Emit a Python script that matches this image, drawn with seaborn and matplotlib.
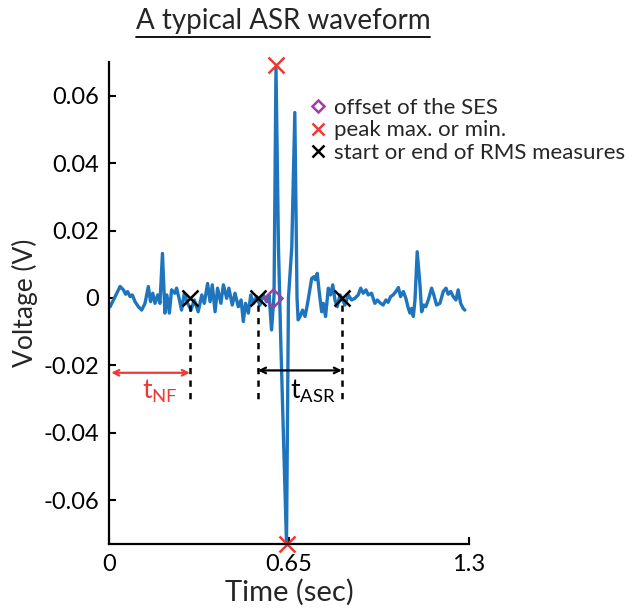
import numpy as np
import pandas as pd
import matplotlib
matplotlib.use("Agg")
import matplotlib.pyplot as plt
import seaborn as sns
from matplotlib.lines import Line2D

# waveform (time in s, voltage in V)
time = [0.004, 0.022, 0.040, 0.052, 0.060, 0.067, 0.076, 0.084, 0.094, 0.106,
        0.118, 0.130, 0.142, 0.150, 0.158, 0.166, 0.176, 0.184, 0.193, 0.202,
        0.209, 0.218, 0.226, 0.238, 0.244, 0.253, 0.262, 0.272, 0.284, 0.296,
        0.308, 0.322, 0.335, 0.344, 0.356, 0.365, 0.373, 0.383, 0.392, 0.404,
        0.413, 0.425, 0.433, 0.445, 0.455, 0.467, 0.477, 0.485, 0.493, 0.503,
        0.512, 0.521, 0.533, 0.545, 0.557, 0.569, 0.578, 0.587, 0.596, 0.603,
        0.612, 0.620, 0.641, 0.648, 0.660, 0.671, 0.679, 0.683, 0.690, 0.699,
        0.708, 0.716, 0.726, 0.732, 0.740, 0.745, 0.752, 0.759, 0.768, 0.774,
        0.782, 0.792, 0.800, 0.808, 0.816, 0.824, 0.834, 0.844, 0.852, 0.864,
        0.876, 0.888, 0.900, 0.909, 0.918, 0.928, 0.936, 0.948, 0.960, 0.969,
        0.981, 0.990, 1.000, 1.008, 1.017, 1.026, 1.036, 1.045, 1.053, 1.063,
        1.072, 1.081, 1.087, 1.093, 1.099, 1.105, 1.113, 1.123, 1.129, 1.137,
        1.144, 1.153, 1.165, 1.173, 1.183, 1.195, 1.207, 1.217, 1.225, 1.234,
        1.243, 1.253, 1.261, 1.270, 1.279, 1.285]
volt = [-0.0026, 0.0004, 0.0034, 0.0024, 0.0011, 0.0019, 0.0004, 0.0009, -0.0011, -0.0026,
        -0.0036, -0.0016, 0.0034, -0.0011, 0.0014, -0.0016, 0.0009, -0.0016, 0.0132, -0.0045,
        0.0009, -0.0045, 0.0024, 0.0014, 0.0029, -0.0001, -0.0036, 0.0014, -0.0016, -0.0036,
        -0.0006, -0.0041, 0.0009, -0.0016, 0.0043, -0.0011, 0.0039, -0.0041, 0.0029, -0.0016,
        0.0039, -0.0001, 0.0029, -0.0021, 0.0014, -0.0026, -0.0006, -0.0070, -0.0016, -0.0045,
        0.0009, -0.0016, 0.0004, -0.0021, 0.0009, -0.0011, 0.0009, -0.0095, 0.0009, 0.0685,
        0.0150, -0.0120, -0.0730, 0.0000, 0.0150, 0.0550, 0.0000, -0.0065, -0.0055, -0.0036,
        -0.0055, -0.0021, 0.0029, 0.0058, 0.0063, 0.0054, 0.0073, 0.0019, -0.0041, -0.0016,
        -0.0055, 0.0029, 0.0009, 0.0039, -0.0006, -0.0026, 0.0009, -0.0006, -0.0021, 0.0009,
        -0.0006, -0.0001, 0.0009, 0.0029, 0.0014, 0.0024, 0.0009, 0.0014, -0.0016, -0.0006,
        -0.0016, -0.0021, -0.0006, -0.0013, 0.0004, 0.0009, 0.0019, 0.0031, 0.0004, 0.0019,
        -0.0001, -0.0031, -0.0045, -0.0031, -0.0055, -0.0006, 0.0137, 0.0039, -0.0041, -0.0021,
        -0.0026, -0.0006, 0.0029, 0.0009, -0.0021, -0.0016, 0.0019, 0.0029, 0.0011, 0.0019,
        0.0004, -0.0006, 0.0024, -0.0016, -0.0031, -0.0036]

# annotation points
ses_offset = (0.592, 0.0)
peak_t = [0.603, 0.641]
peak_v = [0.069, -0.073]
rms_t = [0.292, 0.538, 0.841]
rms_v = [0.0, 0.0, 0.0]

legend_labels = ["offset of the SES", "peak max. or min.", "start or end of RMS measures"]
y_ticks = [-0.06, -0.04, -0.02, 0, 0.02, 0.04, 0.06]
y_ticklabels = ["-0.06", "-0.04", "-0.02", "0", "0.02", "0.04", "0.06"]
x_ticks = [0, 0.65, 1.3]
x_ticklabels = ["0", "0.65", "1.3"]

sns.set_style("ticks")
plt.rcParams['font.family'] = ['Lato', 'DejaVu Sans']

blue = '#1f75bd'
red = '#ee3a36'
purple = '#a33d9f'

fig = plt.figure(figsize=(6.36, 6.09), dpi=100)
ax = fig.add_axes([0.1714, 0.1067, 0.566, 0.7915])

df = pd.DataFrame({'time': time, 'volt': volt})
sns.lineplot(data=df, x='time', y='volt', ax=ax, color=blue, lw=2.4, sort=False)

# dashed markers for the RMS windows
for t in rms_t:
    ax.plot([t, t], [-0.002, -0.031], ls=(0, (2.5, 2.5)), color='black', lw=1.8)

ax.plot(*ses_offset, marker='D', ms=9, mfc='none', mec=purple, mew=1.8, clip_on=False)
ax.plot(peak_t, peak_v, 'x', ms=11, mew=1.8, color=red, clip_on=False)
ax.plot(rms_t, rms_v, 'x', ms=12, mew=1.8, color='black', clip_on=False)

# interval arrows
ax.annotate('', xy=(0.008, -0.0222), xytext=(0.292, -0.0222),
            arrowprops=dict(arrowstyle='<->', color=red, lw=1.6, shrinkA=0, shrinkB=0))
ax.annotate('', xy=(0.538, -0.0215), xytext=(0.841, -0.0215),
            arrowprops=dict(arrowstyle='<->', color='black', lw=1.6, shrinkA=0, shrinkB=0))
ax.text(0.12, -0.0278, r'$\mathregular{t_{NF}}$', color=red, fontsize=19, va='center')
ax.text(0.655, -0.0278, r'$\mathregular{t_{ASR}}$', color='black', fontsize=19, va='center')

handles = [
    Line2D([], [], ls='none', marker='D', ms=6, mfc='none', mec=purple, mew=1.8),
    Line2D([], [], ls='none', marker='x', ms=8, mew=1.8, color=red),
    Line2D([], [], ls='none', marker='x', ms=8, mew=1.8, color='black'),
]
ax.legend(handles, legend_labels, loc='upper left', bbox_to_anchor=(0.56, 0.925),
          frameon=False, fontsize=16, handlelength=0.7, handletextpad=0.35,
          labelspacing=0.1, borderaxespad=0, borderpad=0)

ax.set_xlim(0, 1.3)
ax.set_ylim(-0.073, 0.07)
ax.set_xticks(x_ticks)
ax.set_xticklabels(x_ticklabels)
ax.set_yticks(y_ticks)
ax.set_yticklabels(y_ticklabels)
ax.tick_params(direction='in', length=5, width=1.5, labelsize=17, colors='black', pad=7)
for side in ['left', 'bottom']:
    ax.spines[side].set_linewidth(1.6)
    ax.spines[side].set_color('black')
sns.despine(ax=ax)

ax.set_xlabel('Time (sec)', fontsize=21, labelpad=3)
ax.set_ylabel('Voltage (V)', fontsize=19, labelpad=4)

# underlined title
title = fig.text(0.445, 0.965, 'A typical ASR waveform', ha='center', va='center', fontsize=20)
fig.canvas.draw()
bb = title.get_window_extent().transformed(fig.transFigure.inverted())
fig.add_artist(Line2D([bb.x0, bb.x1], [bb.y0 - 0.004, bb.y0 - 0.004],
                      color='black', lw=1.3, transform=fig.transFigure))

fig.savefig('out.png', dpi=100)
